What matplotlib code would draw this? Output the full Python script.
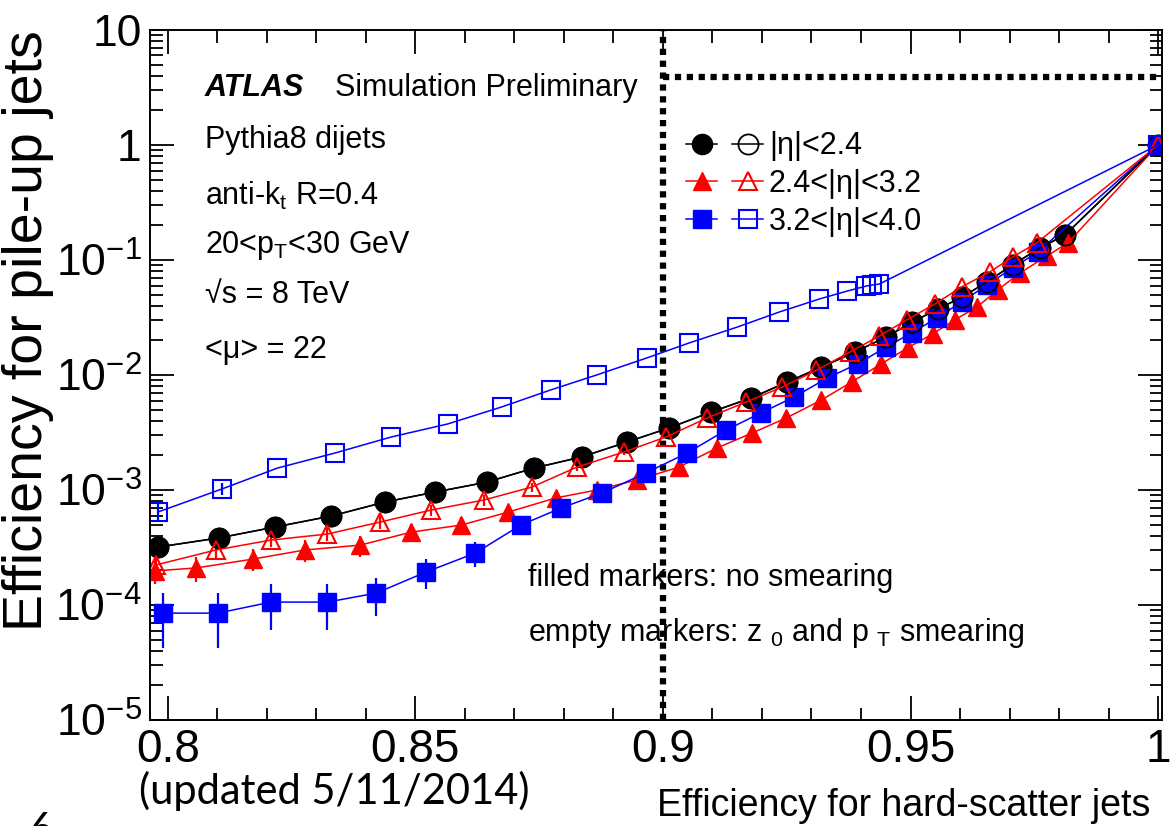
import matplotlib
matplotlib.use('Agg')
import matplotlib.pyplot as plt
from matplotlib.legend_handler import HandlerTuple
from matplotlib.ticker import FixedLocator, MultipleLocator, LogLocator, NullFormatter

plt.rcParams['font.family'] = ['Liberation Sans', 'DejaVu Sans']
plt.rcParams['mathtext.fontset'] = 'custom'
plt.rcParams['mathtext.rm'] = 'Liberation Sans'
plt.rcParams['mathtext.it'] = 'Liberation Sans:italic'
plt.rcParams['mathtext.bf'] = 'Liberation Sans:bold'

# |eta|<2.4 (filled and empty markers coincide)
hs_c = [0.7980, 0.8103, 0.8217, 0.8330, 0.8439, 0.8540, 0.8644, 0.8739, 0.8836, 0.8927,
        0.9012, 0.9097, 0.9178, 0.9251, 0.9320, 0.9387, 0.9451, 0.9504, 0.9555, 0.9605,
        0.9654, 0.9706, 0.9761, 0.9812, 1.0]
pu_c = [3.19e-4, 3.83e-4, 4.77e-4, 5.94e-4, 7.87e-4, 9.6e-4, 1.17e-3, 1.55e-3, 1.94e-3, 2.61e-3,
        3.46e-3, 4.76e-3, 6.31e-3, 8.69e-3, 1.17e-2, 1.58e-2, 2.14e-2, 2.89e-2, 3.75e-2, 4.77e-2,
        6.44e-2, 9.05e-2, 0.127, 0.165, 1.0]
err_c = [2.5e-5, 2.8e-5, 3.2e-5, 3.6e-5, 4.5e-5, 5e-5, 5.5e-5, 7e-5, 8e-5, 1e-4,
         1.2e-4, 0, 0, 0, 0, 0, 0, 0, 0, 0, 0, 0, 0, 0, 0]

# 2.4<|eta|<3.2, no smearing
hs_rf = [0.7974, 0.8057, 0.8172, 0.8277, 0.8389, 0.8492, 0.8593, 0.8688, 0.8783, 0.8866,
         0.8947, 0.9032, 0.9109, 0.9180, 0.9249, 0.9320, 0.9381, 0.9441, 0.9494, 0.9545,
         0.9589, 0.9634, 0.9676, 0.9721, 0.9775, 0.9818, 1.0]
pu_rf = [1.98e-4, 2.10e-4, 2.51e-4, 3.01e-4, 3.32e-4, 4.31e-4, 4.96e-4, 6.44e-4, 8.52e-4, 1.0e-3,
         1.22e-3, 1.58e-3, 2.32e-3, 3.13e-3, 4.23e-3, 6.06e-3, 8.69e-3, 1.25e-2, 1.72e-2, 2.28e-2,
         3.01e-2, 3.90e-2, 5.48e-2, 7.71e-2, 0.108, 0.141, 1.0]
err_rf = [4.5e-5, 5e-5, 5.5e-5, 6.5e-5, 7e-5, 8e-5, 8.5e-5, 1e-4, 1.1e-4, 1.2e-4,
          1.3e-4, 0, 0, 0, 0, 0, 0, 0, 0, 0, 0, 0, 0, 0, 0, 0, 0]

# 2.4<|eta|<3.2, z0 and pT smearing
hs_ro = [0.7976, 0.8097, 0.8208, 0.8322, 0.8429, 0.8532, 0.8638, 0.8735, 0.8826, 0.8921,
         0.9006, 0.9089, 0.9168, 0.9241, 0.9310, 0.9377, 0.9437, 0.9492, 0.9549, 0.9603,
         0.9660, 0.9706, 0.9755, 1.0]
pu_ro = [2.23e-4, 3.01e-4, 3.67e-4, 4.14e-4, 5.27e-4, 6.70e-4, 8.18e-4, 1.06e-3, 1.58e-3, 2.14e-3,
         2.89e-3, 4.23e-3, 5.82e-3, 7.86e-3, 1.10e-2, 1.58e-2, 2.18e-2, 3.01e-2, 4.14e-2, 5.82e-2,
         7.87e-2, 0.106, 0.141, 1.0]
err_ro = [3.5e-5, 4.5e-5, 5e-5, 5.5e-5, 6.5e-5, 7.5e-5, 8.5e-5, 1e-4, 1.2e-4, 1.4e-4,
          0, 0, 0, 0, 0, 0, 0, 0, 0, 0, 0, 0, 0, 0]

# 3.2<|eta|<4.0, no smearing
hs_bf = [0.7990, 0.8101, 0.8208, 0.8322, 0.8421, 0.8522, 0.8621, 0.8713, 0.8794, 0.8877,
         0.8966, 0.9049, 0.9128, 0.9198, 0.9265, 0.9332, 0.9393, 0.9451, 0.9502, 0.9553,
         0.9603, 0.9654, 0.9706, 0.9757, 1.0]
pu_bf = [8.5e-5, 8.5e-5, 1.06e-4, 1.06e-4, 1.27e-4, 1.94e-4, 2.83e-4, 4.96e-4, 6.97e-4, 9.42e-4,
         1.41e-3, 2.10e-3, 3.33e-3, 4.68e-3, 6.44e-3, 9.42e-3, 1.25e-2, 1.75e-2, 2.32e-2, 3.13e-2,
         4.31e-2, 6.06e-2, 8.52e-2, 0.117, 1.0]
err_bf = [4.3e-5, 4.3e-5, 4.5e-5, 4.5e-5, 4.6e-5, 5.5e-5, 7e-5, 7.5e-5, 8e-5, 9e-5,
          1.0e-4, 0, 0, 0, 0, 0, 0, 0, 0, 0, 0, 0, 0, 0, 0]

# 3.2<|eta|<4.0, z0 and pT smearing
hs_bo = [0.7980, 0.8109, 0.8221, 0.8338, 0.8451, 0.8565, 0.8674, 0.8773, 0.8866, 0.8968,
         0.9053, 0.9150, 0.9235, 0.9316, 0.9372, 0.9411, 0.9423, 0.9437, 1.0]
pu_bo = [6.44e-4, 1.02e-3, 1.55e-3, 2.10e-3, 2.89e-3, 3.75e-3, 5.27e-3, 7.41e-3, 1.0e-2, 1.41e-2,
         1.90e-2, 2.61e-2, 3.53e-2, 4.58e-2, 5.37e-2, 5.94e-2, 6.06e-2, 6.18e-2, 1.0]
err_bo = [1.2e-4, 1.2e-4, 0, 0, 0, 0, 0, 0, 0, 0, 0, 0, 0, 0, 0, 0, 0, 0, 0]

xticks = [0.8, 0.85, 0.9, 0.95, 1.0]
xtick_labels = ['0.8', '0.85', '0.9', '0.95', '1']
yticks = [1e-5, 1e-4, 1e-3, 1e-2, 1e-1, 1, 10]
ytick_labels = ['10$^{-5}$', '10$^{-4}$', '10$^{-3}$', '10$^{-2}$', '10$^{-1}$', '1', '10']
legend_labels = ['|η|<2.4', '2.4<|η|<3.2', '3.2<|η|<4.0']
cut_hs = 0.9
cut_pu = 3.9

fig = plt.figure(figsize=(11.74, 8.26), dpi=100)
ax = fig.add_axes([0.1278, 0.1283, 0.8620, 0.8354])

kw = dict(lw=1.1, elinewidth=1.6, capsize=0)
c_f = ax.errorbar(hs_c, pu_c, yerr=err_c, color='k', marker='o', ms=14.5, **kw)
r_f = ax.errorbar(hs_rf, pu_rf, yerr=err_rf, color='red', marker='^', ms=13, **kw)
b_f = ax.errorbar(hs_bf, pu_bf, yerr=err_bf, color='blue', marker='s', ms=12.5, **kw)
c_o = ax.errorbar(hs_c, pu_c, yerr=err_c, color='k', marker='o', ms=14.5, mfc='none', mew=1.3, **kw)
r_o = ax.errorbar(hs_ro, pu_ro, yerr=err_ro, color='red', marker='^', ms=13, mfc='none', mew=1.5, **kw)
b_o = ax.errorbar(hs_bo, pu_bo, yerr=err_bo, color='blue', marker='s', ms=12.5, mfc='none', mew=1.5, **kw)

# working point lines
ax.axvline(cut_hs, color='k', lw=4.5, ls=(0, (1, 0.9)), dash_capstyle='butt')
ax.hlines(cut_pu, cut_hs, 1.0008, color='k', lw=4.5, ls=(0, (1, 0.9)))

ax.set_xlim(0.7964, 1.0008)
ax.set_yscale('log')
ax.set_ylim(1e-5, 10)

ax.xaxis.set_major_locator(FixedLocator(xticks))
ax.set_xticklabels(xtick_labels)
ax.xaxis.set_minor_locator(MultipleLocator(0.01))
ax.yaxis.set_major_locator(FixedLocator(yticks))
ax.set_yticklabels(ytick_labels)
ax.yaxis.set_minor_locator(LogLocator(base=10, subs=[2, 3, 4, 5, 6, 7, 8, 9]))
ax.yaxis.set_minor_formatter(NullFormatter())

ax.tick_params(which='both', direction='in', top=True, right=True, width=1.3)
ax.tick_params(which='major', length=17)
ax.tick_params(which='minor', length=9)
ax.tick_params(axis='x', labelsize=33, pad=6)
ax.tick_params(axis='y', labelsize=32, pad=6)
for s in ax.spines.values():
    s.set_linewidth(1.4)

ax.text(0.054, 0.916, 'ATLAS', transform=ax.transAxes, fontsize=22, fontweight='bold',
        fontstyle='italic', va='center')
ax.text(0.183, 0.916, 'Simulation Preliminary', transform=ax.transAxes, fontsize=22, va='center')
ax.text(0.054, 0.841, 'Pythia8 dijets', transform=ax.transAxes, fontsize=22, va='center')
ax.text(0.054, 0.759, r'anti-k$_{\rm t}$ R=0.4', transform=ax.transAxes, fontsize=22, va='center')
ax.text(0.054, 0.688, r'20<p$_{\rm T}$<30 GeV', transform=ax.transAxes, fontsize=22, va='center')
ax.text(0.054, 0.616, '√s = 8 TeV', transform=ax.transAxes, fontsize=22, va='center')
ax.text(0.054, 0.536, '<μ> = 22', transform=ax.transAxes, fontsize=22, va='center')
ax.text(0.3735, 0.206, 'filled markers: no smearing', transform=ax.transAxes, fontsize=22, va='center')
ax.text(0.3735, 0.126, r'empty markers: z $_{\rm 0}$ and p $_{\rm T}$ smearing',
        transform=ax.transAxes, fontsize=22, va='center')

ax.legend([(c_f[0], c_o[0]), (r_f[0], r_o[0]), (b_f[0], b_o[0])], legend_labels,
          handler_map={tuple: HandlerTuple(ndivide=None, pad=0.5)},
          loc='upper left', bbox_to_anchor=(0.530, 0.853), frameon=False, fontsize=22,
          handlelength=2.5, handletextpad=0.2, labelspacing=0.25, borderpad=0, borderaxespad=0)

fig.text(0.024, 0.9637, 'Efficiency for pile-up jets', rotation=90, ha='center', va='top', fontsize=40)
fig.text(0.9796, 0.024, 'Efficiency for hard-scatter jets', ha='right', va='center', fontsize=27)
fig.text(0.285, 0.043, '(updated 5/11/2014)', ha='center', va='center', fontsize=30, family='Lato')
fig.text(0.035, -0.006, '6', ha='center', va='center', fontsize=30, family='Lato')

fig.savefig('out.png', dpi=100)
